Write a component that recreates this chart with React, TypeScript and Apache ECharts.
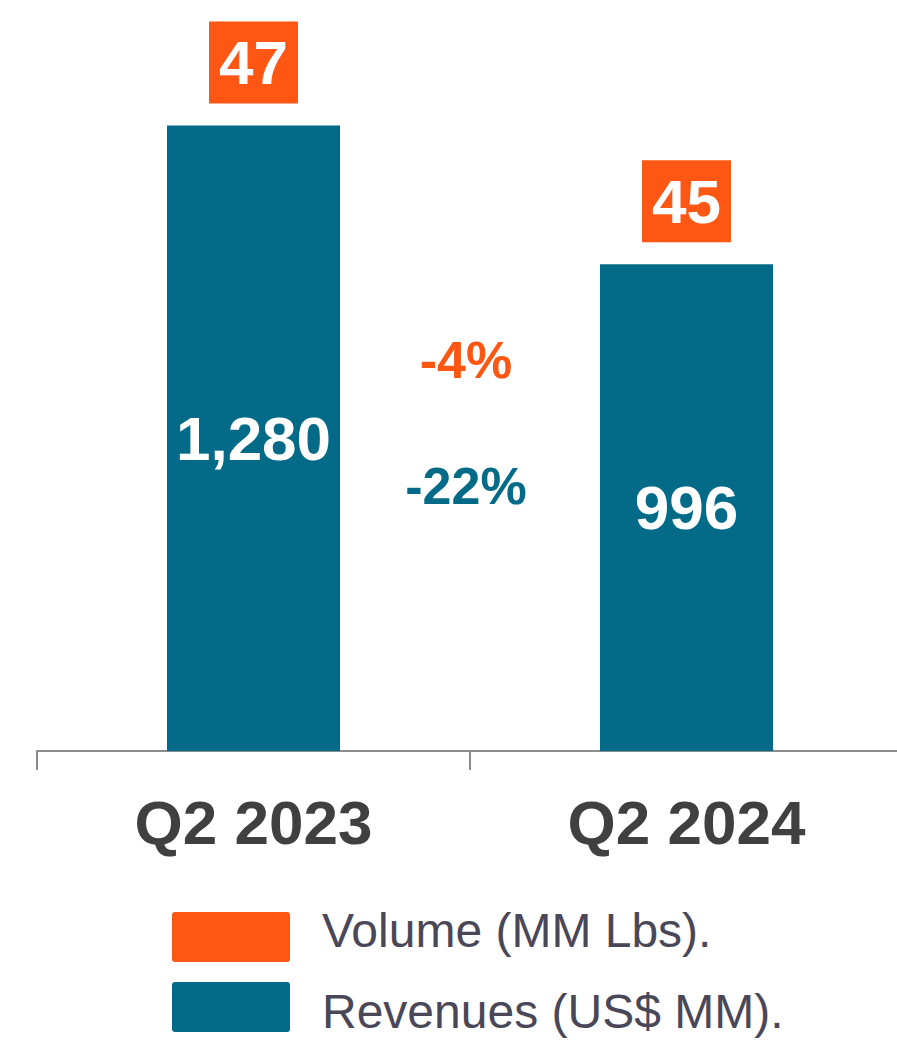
import React, { useEffect, useRef } from "react";
import * as echarts from "echarts";

const categories = ["Q2 2023", "Q2 2024"];
const revenues = [1280, 996];
const volumes = [47, 45];
const seriesNames = ["Volume (MM Lbs).", "Revenues (US$ MM)."];

const ORANGE = "#FE5613";
const TEAL = "#036B88";
const FONT = "'Liberation Sans', Arial, sans-serif";

const pct = (a: number, b: number) => `${Math.round(((b - a) / a) * 100)}%`;

export default function App() {
  const ref = useRef<HTMLDivElement>(null);
  useEffect(() => {
    if (!ref.current) return;
    const chart = echarts.init(ref.current, undefined, { renderer: "svg" });
    const legendIcon =
      "path://M3,0H115Q118,0 118,3V47Q118,50 115,50H3Q0,50 0,47V3Q0,0 3,0Z";
    const legendText = { fontSize: 48, color: "#4A4858", fontFamily: FONT };
    chart.setOption({
      animation: false,
      textStyle: { fontFamily: FONT },
      grid: {
        left: 37,
        right: -6,
        top: 18,
        bottom: 302,
        containLabel: false,
        outerBoundsMode: "none",
      },
      legend: {
        orient: "vertical",
        left: 167,
        top: 901,
        itemWidth: 118,
        itemHeight: 50,
        itemGap: 20,
        icon: legendIcon,
        data: seriesNames,
        formatter: (name: string) =>
          name === seriesNames[0] ? `{a|${name}}` : `{b|${name}}`,
        textStyle: {
          ...legendText,
          rich: {
            a: { ...legendText, padding: [0, 0, 14, 27] },
            b: { ...legendText, padding: [8, 0, 0, 27] },
          },
        },
      },
      xAxis: {
        type: "category",
        data: categories,
        axisLine: { lineStyle: { color: "#8C8C8C", width: 2 } },
        axisTick: { show: true, length: 19, lineStyle: { color: "#8C8C8C", width: 2 } },
        axisLabel: {
          fontSize: 62,
          fontWeight: "bold",
          color: "#404040",
          margin: 40,
          fontFamily: FONT,
        },
      },
      yAxis: {
        type: "value",
        min: 0,
        max: 1500,
        show: false,
        splitLine: { show: false },
      },
      series: [
        {
          name: seriesNames[0],
          type: "scatter",
          symbolSize: 0,
          itemStyle: { color: ORANGE, opacity: 1 },
          data: categories.map((c, i) => [i, revenues[i], volumes[i]]),
          label: {
            show: true,
            position: "top",
            distance: 22,
            formatter: (p: any) => String(p.value[2]),
            color: "#FFFFFF",
            fontSize: 62,
            fontWeight: "bold",
            lineHeight: 62,
            backgroundColor: ORANGE,
            padding: [10, 10, 10, 10],
            fontFamily: FONT,
            opacity: 1,
          },
          emphasis: { disabled: true },
          z: 5,
        },
        {
          name: seriesNames[1],
          type: "bar",
          barWidth: 173,
          itemStyle: { color: TEAL },
          data: revenues,
          label: {
            show: true,
            position: "inside",
            formatter: (p: any) => Number(p.value).toLocaleString("en-US"),
            color: "#FFFFFF",
            fontSize: 62,
            fontWeight: "bold",
            fontFamily: FONT,
          },
        },
      ],
      graphic: [
        {
          type: "text",
          x: 466,
          y: 360,
          style: {
            text: pct(volumes[0], volumes[1]),
            fill: ORANGE,
            fontSize: 52,
            fontWeight: "bold",
            fontFamily: FONT,
            textAlign: "center",
            textVerticalAlign: "middle",
          },
        },
        {
          type: "text",
          x: 466,
          y: 486,
          style: {
            text: pct(revenues[0], revenues[1]),
            fill: TEAL,
            fontSize: 52,
            fontWeight: "bold",
            fontFamily: FONT,
            textAlign: "center",
            textVerticalAlign: "middle",
          },
        },
      ],
    });
    return () => chart.dispose();
  }, []);
  return (
    <div
      ref={ref}
      style={{ position: "absolute", left: 0, top: 0, width: 897, height: 1053 }}
    />
  );
}
